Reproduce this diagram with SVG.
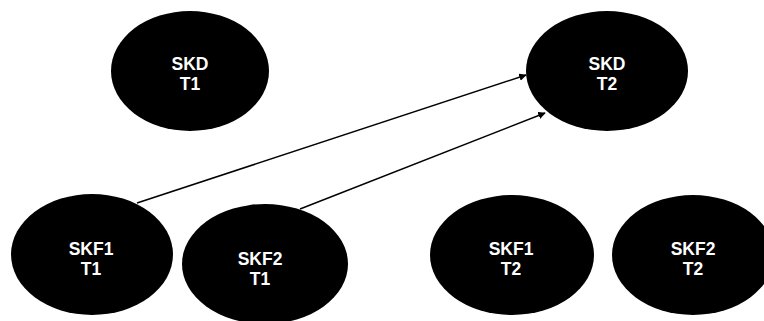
<svg xmlns="http://www.w3.org/2000/svg" width="764" height="321" viewBox="0 0 764 321">
<defs>
<style>
.node ellipse{fill:#000;stroke:none}
.node text{fill:#fff;font-family:"Liberation Sans",Arial,sans-serif;font-weight:bold;font-size:17.5px;text-anchor:middle}
.edge{stroke:#000;stroke-width:1.5;fill:none;marker-end:url(#ah)}
</style>
<marker id="ah" viewBox="0 0 10 10" refX="9" refY="5" markerWidth="5" markerHeight="5" orient="auto" markerUnits="strokeWidth">
<path d="M0,0 L10,5 L0,10 z" fill="#000"/>
</marker>
</defs>
<rect width="764" height="321" fill="#fff"/>
<g id="skd-t1" class="node"><ellipse cx="190" cy="71" rx="79" ry="60"/><text x="190" y="70">SKD</text><text x="190" y="90">T1</text></g>
<g id="skd-t2" class="node"><ellipse cx="607" cy="71" rx="81" ry="60"/><text x="607" y="70">SKD</text><text x="607" y="90">T2</text></g>
<g id="skf1-t1" class="node"><ellipse cx="92" cy="254.5" rx="81" ry="60.5"/><text x="91" y="255">SKF1</text><text x="91" y="275">T1</text></g>
<g id="skf2-t1" class="node"><ellipse cx="265" cy="264" rx="83" ry="60"/><text x="260" y="265">SKF2</text><text x="260" y="285">T1</text></g>
<g id="skf1-t2" class="node"><ellipse cx="512" cy="255" rx="82" ry="60"/><text x="511" y="255">SKF1</text><text x="511" y="275">T2</text></g>
<g id="skf2-t2" class="node"><ellipse cx="693" cy="255" rx="81" ry="60"/><text x="693" y="255">SKF2</text><text x="693" y="275">T2</text></g>
<g id="connectors">
<line class="edge" x1="137" y1="203" x2="526" y2="75"/>
<line class="edge" x1="300" y1="209" x2="545" y2="113"/>
</g>
</svg>
